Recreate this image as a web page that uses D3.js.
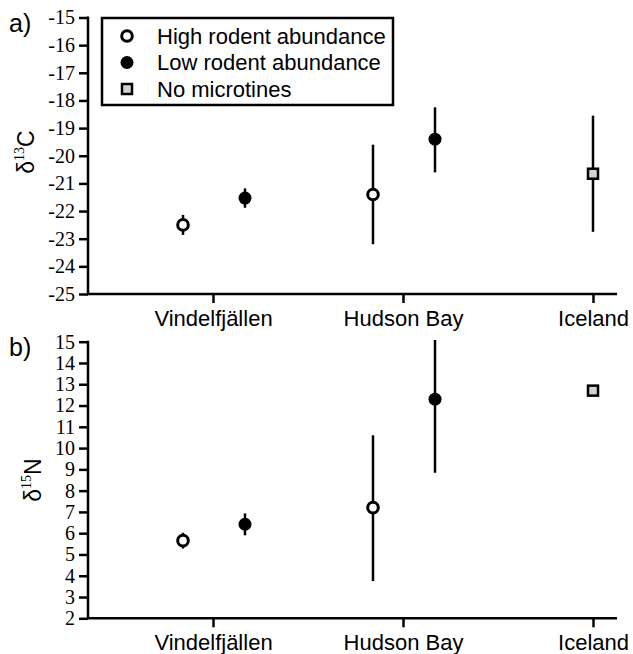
<!DOCTYPE html>
<html>
<head>
<meta charset="utf-8">
<script src="https://cdn.jsdelivr.net/npm/d3@7"></script>
<style>
  body { margin: 0; background: white; }
  svg { display: block; }
  .yaxis .tick text { font-family: "Liberation Serif", "Times New Roman", serif; font-size: 20px; }
  .xaxis .tick text { font-family: "Liberation Sans", Arial, sans-serif; font-size: 22px; }
</style>
</head>
<body>
<svg></svg>
<script>
const width = 633
const height = 654

// data
const sites = ["Vindelfjällen", "Hudson Bay", "Iceland"]
const groups = ["High rodent abundance", "Low rodent abundance", "No microtines"]
const pointSite = ["Vindelfjällen", "Vindelfjällen", "Hudson Bay", "Hudson Bay", "Iceland"]
const pointGroup = ["High rodent abundance", "Low rodent abundance", "High rodent abundance", "Low rodent abundance", "No microtines"]
const d13C = [-22.5, -21.53, -21.4, -19.4, -20.65]
const d13CLow = [-22.86, -21.88, -23.2, -20.6, -22.75]
const d13CHigh = [-22.14, -21.18, -19.6, -18.25, -18.55]
const d15N = [5.65, 6.42, 7.2, 12.3, 12.7]
const d15NLow = [5.28, 5.9, 3.75, 8.84, null]
const d15NHigh = [6.02, 6.93, 10.6, 15.08, null]
const cTicks = d3.range(-25, -14, 1)
const nTicks = d3.range(2, 16, 1)

const svg = d3.select("svg").attr("width", width).attr("height", height)

const x_scale = d3.scalePoint(sites, [213, 593])
const offset = d3.scaleOrdinal(groups, [-30, 32, 0])

let make_panel = (opts) => {
  const g = svg.append("g")
  const y = d3.scaleLinear(opts.domain, opts.range)

  const yAxis = g.append("g")
    .classed("yaxis", true)
    .attr("transform", `translate(${opts.left},0)`)
    .call(d3.axisLeft(y).tickValues(opts.ticks).tickSize(9).tickSizeOuter(0).tickPadding(4).tickFormat(d => d < 0 ? "-" + Math.abs(d) : d))
  yAxis.select(".domain").remove()
  yAxis.selectAll(".tick line").attr("stroke-width", 2.5)
  yAxis.selectAll(".tick text").attr("fill", "#000")

  const bottom = opts.range[0]
  const xAxis = g.append("g")
    .classed("xaxis", true)
    .attr("transform", `translate(0,${bottom})`)
    .call(d3.axisBottom(x_scale).tickSize(9).tickPadding(7))
  xAxis.select(".domain").remove()
  xAxis.selectAll(".tick line").attr("stroke-width", 2.5)
  xAxis.selectAll(".tick text").attr("fill", "#000")

  // axis lines
  g.append("path")
    .attr("d", `M${opts.left},${opts.range[1] - 1}V${bottom}H617`)
    .attr("fill", "none").attr("stroke", "#000").attr("stroke-width", 2.5)

  // panel letter
  g.append("text")
    .attr("x", 9).attr("y", opts.range[1] + 14)
    .attr("font-family", "'Liberation Sans', Arial, sans-serif")
    .attr("font-size", 25)
    .text(opts.letter)

  // y title
  const t = g.append("text")
    .attr("transform", `translate(${opts.titleX},${opts.titleY}) rotate(-90)`)
    .attr("text-anchor", "middle")
    .attr("font-family", "'Liberation Sans', Arial, sans-serif")
    .attr("font-size", 23)
  t.append("tspan").text("δ")
  t.append("tspan").attr("font-family", "'Liberation Serif', serif").attr("font-size", 14).attr("dy", -10).text(opts.iso)
  t.append("tspan").attr("dy", 10).text(opts.el)

  // points
  const pts = opts.mean.map((m, i) => ({
    site: pointSite[i], group: pointGroup[i], m: m, lo: opts.lo[i], hi: opts.hi[i]
  }))

  g.selectAll(".err")
    .data(pts.filter(d => d.lo !== null))
    .join("line")
    .attr("x1", d => x_scale(d.site) + offset(d.group))
    .attr("x2", d => x_scale(d.site) + offset(d.group))
    .attr("y1", d => y(d.lo))
    .attr("y2", d => y(d.hi))
    .attr("stroke", "#000").attr("stroke-width", 2.5)

  pts.forEach(d => draw_marker(g, x_scale(d.site) + offset(d.group), y(d.m), d.group))
}

let draw_marker = (g, cx, cy, group) => {
  if (group === "No microtines") {
    g.append("rect")
      .attr("x", cx - 5).attr("y", cy - 5).attr("width", 10).attr("height", 10)
      .attr("fill", "#d3d3d3").attr("stroke", "#000").attr("stroke-width", 2.5)
  } else {
    const open = group === "High rodent abundance"
    g.append("circle")
      .attr("cx", cx).attr("cy", cy).attr("r", open ? 5.3 : 6.5)
      .attr("fill", open ? "#fff" : "#000")
      .attr("stroke", "#000").attr("stroke-width", open ? 3 : 0)
  }
}

make_panel({
  domain: [-25, -15], range: [294, 17.5], ticks: cTicks, left: 88,
  mean: d13C, lo: d13CLow, hi: d13CHigh, letter: "a)",
  iso: "13", el: "C", titleX: 34, titleY: 152
})

make_panel({
  domain: [2, 15], range: [618.3, 341.7], ticks: nTicks, left: 88,
  mean: d15N, lo: d15NLow, hi: d15NHigh, letter: "b)",
  iso: "15", el: "N", titleX: 41, titleY: 480
})

// legend
const legend = svg.append("g")
legend.append("rect")
  .attr("x", 102).attr("y", 18).attr("width", 291).attr("height", 87)
  .attr("fill", "#fff").attr("stroke", "#000").attr("stroke-width", 2.5)

const legendY = d3.scalePoint(groups, [36, 89])
groups.forEach(gr => {
  draw_marker(legend, 127, legendY(gr), gr)
  legend.append("text")
    .attr("x", 157).attr("y", legendY(gr) + 7.5)
    .attr("font-family", "'Liberation Sans', Arial, sans-serif")
    .attr("font-size", 22)
    .text(gr)
})
</script>
</body>
</html>
